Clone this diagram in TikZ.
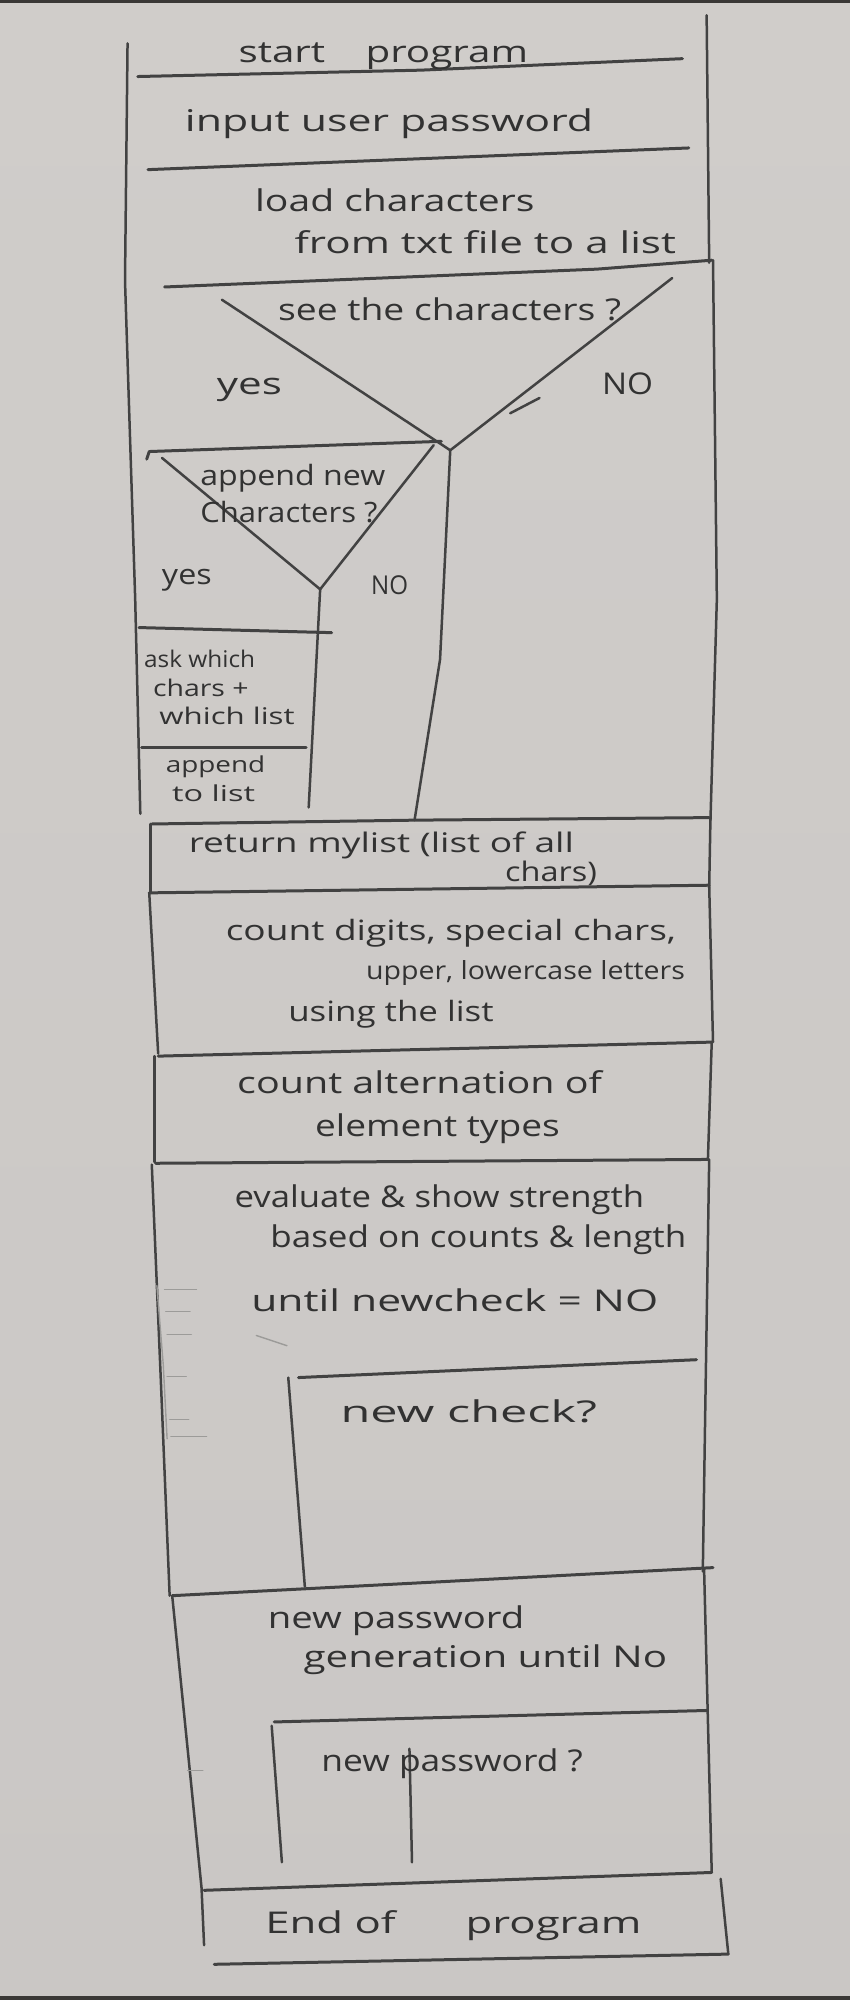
\documentclass[tikz,border=0pt]{standalone}
\usepackage{fontspec}
\setmainfont{Open Sans}
\usepackage{graphicx}
\definecolor{pencil}{RGB}{66,66,66}
\definecolor{ink}{RGB}{50,50,50}
\definecolor{paperA}{RGB}{208,205,202}
\definecolor{paperB}{RGB}{216,214,211}
\definecolor{paperC}{RGB}{202,199,197}
\definecolor{edge}{RGB}{58,56,54}

% one handwritten line: [font size], name, left x, right x, baseline y, text
\newcommand\handline[6][30]{%
  \node[hw, font=\fontsize{#1}{#1}\selectfont] (#2) at (#3,#5)
    {\resizebox{\fpeval{(#4-(#3))*1.2763}pt}{\height}{#6}};}

\begin{document}
\begin{tikzpicture}[x=1.2763pt,y=-1.2763pt,
  rule/.style={draw=pencil, line width=3pt, line cap=round, line join=round},
  post/.style={draw=pencil, line width=2.5pt, line cap=round, line join=round},
  faint/.style={draw=pencil!40!paperB, line width=1.4pt, line cap=round},
  hw/.style={inner sep=0pt, outer sep=0pt, text=ink, anchor=base west}]

% sheet of paper
\useasboundingbox (0,0) rectangle (666,1568);
\shade[top color=paperA, middle color=paperB, bottom color=paperC] (0,0) rectangle (666,1568);
\fill[edge] (0,0) rectangle (666,2.5);
\fill[edge] (0,1564.5) rectangle (666,1568);

% ---------- outer frame, upper part ----------
\draw[post] (100,34) -- (98,220) -- (106,470) -- (110,638);
\draw[post] (554,12) -- (556,206);
\draw[post] (559,204) -- (562,470) -- (557,643);

% ---------- sequence ----------
\draw[rule] (108,60) -- (330,55) -- (535,46);
\draw[rule] (116,133) -- (540,116);
\draw[rule] (129,225) -- (468,211) -- (558,204);

% ---------- first decision ----------
\draw[post] (174,235) -- (353,353) -- (527,218);
\draw[post] (353,353) -- (345,517) -- (325,643);
\draw[post] (400,324) -- (423,312);

% ---------- nested decision ----------
\draw[rule] (115,360) -- (117,354) -- (346,346);
\draw[post] (127,359) -- (251,462) -- (340,349);
\draw[post] (251,462) -- (242,633);
\draw[rule] (109,492) -- (260,496);
\draw[rule] (111,586) -- (240,586);

% ---------- return block ----------
\draw[rule] (119,646) -- (325,643) -- (556,641);
\draw[post] (118,646) -- (118,700);
\draw[post] (557,641) -- (556,696);
\draw[rule] (117,700) -- (556,694);

% ---------- counting blocks ----------
\draw[post] (117,700) -- (124,826);
\draw[post] (556,694) -- (559,817);
\draw[rule] (124,828) -- (558,817);
\draw[post] (121,828) -- (121,911);
\draw[post] (558,817) -- (555,909);
\draw[rule] (122,912) -- (555,909);

% ---------- loop: until newcheck = NO ----------
\draw[post] (119,913) -- (126,1080) -- (133,1251);
\draw[post] (556,909) -- (553,1100) -- (551,1232);
\draw[rule] (234,1080) -- (546,1066);
\draw[post] (226,1080) -- (239,1244);
\draw[rule] (135,1251) -- (559,1229);
% stray pencil marks along the loop edge
\draw[faint] (123,1008) -- (128,1070) -- (131,1128);
\foreach \yy/\xa/\xb in {1011/129/154, 1028/130/149, 1046/131/150, 1079/131/146, 1113/133/148, 1126/134/162}
  \draw[faint] (\xa,\yy) -- (\xb,\yy);
\draw[faint] (201,1047) -- (225,1055);

% ---------- loop: new password generation ----------
\draw[post] (135,1251) -- (150,1400) -- (158,1480) -- (160,1525);
\draw[post] (552,1230) -- (558,1468);
\draw[rule] (215,1350) -- (554,1341);
\draw[post] (213,1353) -- (221,1460);
\draw[post] (321,1371) -- (323,1460);
\draw[faint] (147,1388) -- (159,1388);
\draw[rule] (160,1482) -- (558,1468);

% ---------- end block ----------
\draw[post] (565,1473) -- (571,1532);
\draw[rule] (168,1540) -- (571,1532);

% ---------- texts ----------
\handline{tstart}{187}{414}{49}{start\hspace{1em}program}
\handline{tinput}{145}{465}{103}{input user password}
\handline{tloadA}{200}{419}{166}{load characters}
\handline{tloadB}{231}{530}{199}{from txt file to a list}
\handline{tseeQ}{218}{487}{251}{see the characters ?}
\handline{tyesA}{170}{221}{309}{yes}
\handline{tnoA}{472}{512}{309}{NO}
\handline[28]{tappA}{157}{302}{381}{append new}
\handline[28]{tappB}{157}{296}{410}{Characters ?}
\handline[28]{tyesB}{127}{166}{458}{yes}
\handline[26]{tnoB}{291}{320}{466}{NO}
\handline[23]{taskA}{113}{200}{523}{ask which}
\handline[23]{taskB}{120}{195}{546}{chars +}
\handline[23]{taskC}{125}{231}{568}{which list}
\handline[22]{taddA}{130}{208}{606}{append}
\handline[22]{taddB}{135}{200}{628}{to list}
\handline[27]{tretA}{148}{450}{668}{return mylist (list of all}
\handline[27]{tretB}{396}{468}{691}{chars)}
\handline[28]{tcntA}{177}{530}{737}{count digits, special chars,}
\handline[25]{tcntB}{287}{537}{768}{upper, lowercase letters}
\handline[28]{tcntC}{226}{387}{801}{using the list}
\handline{taltA}{186}{472}{857}{count alternation of}
\handline{taltB}{247}{439}{891}{element types}
\handline{tevaA}{184}{505}{947}{evaluate \& show strength}
\handline{tevaB}{212}{538}{978}{based on counts \& length}
\handline{tuntA}{197}{516}{1028}{until newcheck = NO}
\handline{tchk}{267}{468}{1115}{new check?}
\handline{tgenA}{210}{411}{1277}{new password}
\handline{tgenB}{238}{523}{1307}{generation until No}
\handline{tnpw}{252}{457}{1389}{new password ?}
\handline{tend}{208}{503}{1516}{End of\hspace{1.6em}program}

\end{tikzpicture}
\end{document}
